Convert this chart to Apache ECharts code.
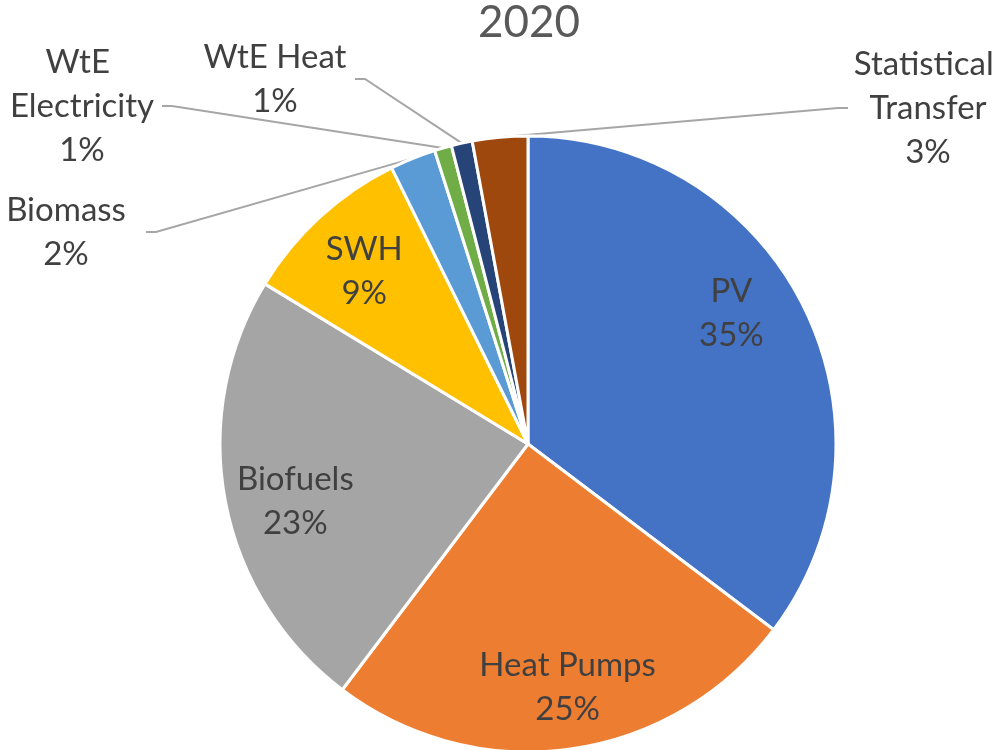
<!DOCTYPE html>
<html>
<head>
<meta charset="utf-8">
<script src="https://cdn.jsdelivr.net/npm/echarts@6/dist/echarts.min.js"></script>
<style>
html,body{margin:0;padding:0;background:#fff;}
#chart{width:1003px;height:750px;}
</style>
</head>
<body>
<div id="chart"></div>
<script>
const categories = ['PV', 'Heat Pumps', 'Biofuels', 'SWH', 'Biomass', 'WtE Electricity', 'WtE Heat', 'Statistical Transfer'];
const shares = [35.3, 25.0, 23.4, 9.0, 2.4, 0.9, 1.1, 2.9];
const colors = ['#4472C4', '#ED7D31', '#A5A5A5', '#FFC000', '#5B9BD5', '#70AD47', '#264478', '#9E480E'];
const insideLabelled = ['PV', 'Heat Pumps', 'Biofuels', 'SWH'];
const titleText = '2020';

// label block centres for the small (outside) slices
const outsideLabelPos = {
  'Biomass': [66, 232],
  'WtE Electricity': [82, 106],
  'WtE Heat': [275, 79],
  'Statistical Transfer': [928, 108]
};
// small nudges of the inside labels (Excel best-fit placement)
const insideLabelNudge = {
  'PV': [-15, -22],
  'Heat Pumps': [6, 2],
  'Biofuels': [7, 12],
  'SWH': [1, 7]
};

const total = shares.reduce((a, b) => a + b, 0);
const fmt = p => p.name + '\n' + Math.round(p.value / total * 100) + '%';
const FONT = 'Lato';
const LABEL_COLOR = '#404040';

const mainData = categories.map((c, i) => {
  const isInside = insideLabelled.includes(c);
  return {
    name: c,
    value: shares[i],
    itemStyle: { color: colors[i] },
    label: isInside ? { show: false } : {
      show: true,
      position: 'outside',
      width: 160,
      overflow: 'break'
    },
    labelLine: { show: !isInside }
  };
});

const labelData = categories.map((c, i) => ({
  name: c,
  value: shares[i],
  label: { show: insideLabelled.includes(c) }
}));

const chart = echarts.init(document.getElementById('chart'), null, { renderer: 'canvas' });
chart.setOption({
  animation: false,
  backgroundColor: '#ffffff',
  title: {
    text: titleText,
    left: 478,
    top: 1,
    padding: 0,
    textStyle: { fontFamily: FONT, fontSize: 44, fontWeight: 'normal', color: '#595959' }
  },
  series: [
    {
      type: 'pie',
      center: [528, 444],
      radius: [0, 308],
      startAngle: 90,
      clockwise: true,
      avoidLabelOverlap: false,
      itemStyle: { borderColor: '#ffffff', borderWidth: 3 },
      label: {
        formatter: fmt,
        fontFamily: FONT,
        fontSize: 33,
        lineHeight: 44,
        color: LABEL_COLOR,
        align: 'center'
      },
      labelLine: {
        length: 20,
        length2: 10,
        smooth: false,
        lineStyle: { color: '#A6A6A6', width: 2 }
      },
      labelLayout: function (params) {
        const name = categories[params.dataIndex];
        const pos = outsideLabelPos[name];
        if (!pos) return {};
        return { x: pos[0], y: pos[1], align: 'center', verticalAlign: 'middle' };
      },
      emphasis: { disabled: true },
      data: mainData
    },
    {
      type: 'pie',
      center: [528, 444],
      radius: [174, 308],
      startAngle: 90,
      clockwise: true,
      silent: true,
      avoidLabelOverlap: false,
      itemStyle: { color: 'rgba(0,0,0,0)', borderWidth: 0 },
      label: {
        position: 'inside',
        formatter: fmt,
        fontFamily: FONT,
        fontSize: 33,
        lineHeight: 44,
        color: LABEL_COLOR,
        align: 'center'
      },
      labelLayout: function (params) {
        const n = insideLabelNudge[categories[params.dataIndex]];
        if (!n) return {};
        return { dx: n[0], dy: n[1] };
      },
      labelLine: { show: false },
      emphasis: { disabled: true },
      data: labelData
    }
  ]
});
</script>
</body>
</html>
